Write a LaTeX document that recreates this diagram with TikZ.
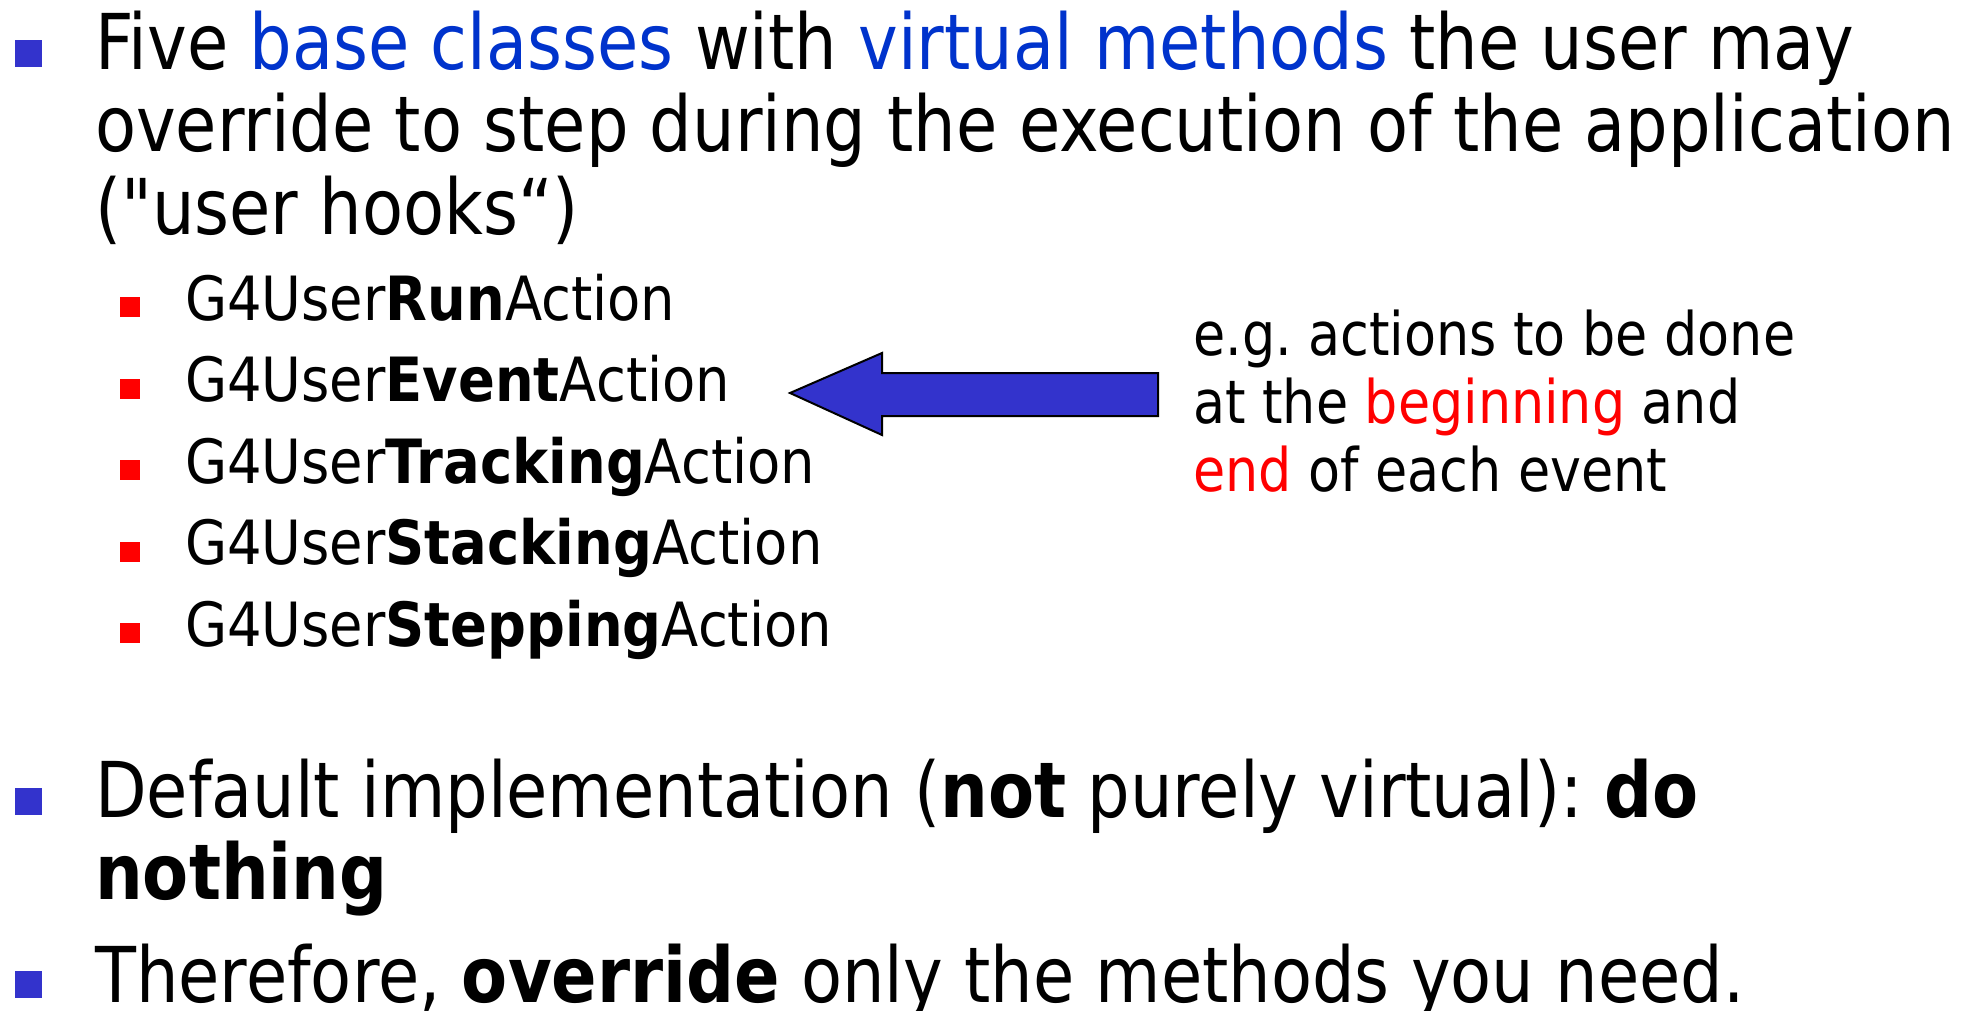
\documentclass[tikz,border=0pt]{standalone}
\usepackage{fontspec}
\setmainfont{DejaVu Sans}[FakeStretch=0.872]
\newfontfamily\mainfam{DejaVu Sans}[FakeStretch=0.871]
\newfontfamily\subfam{DejaVu Sans}[FakeStretch=0.891]
\usepackage{xcolor}
\usetikzlibrary{positioning}

\definecolor{bulletblue}{RGB}{51,51,204}
\definecolor{wordblue}{RGB}{0,51,204}
\definecolor{wordred}{RGB}{255,0,0}

\begin{document}
\frenchspacing
\begin{tikzpicture}[x=1pt, y=-1pt,
    mainline/.style={anchor=base west, inner sep=0pt, font=\mainfam\fontsize{77}{82}\selectfont},
    subline/.style={anchor=base west, inner sep=0pt, font=\subfam\fontsize{61}{70}\selectfont},
    noteline/.style={anchor=base west, inner sep=0pt, font=\fontsize{60}{68}\selectfont},
    bigbullet/.style={rectangle, fill=bulletblue, inner sep=0pt, minimum size=27pt},
    smallbullet/.style={rectangle, fill=wordred, inner sep=0pt, minimum size=20pt},
    blockarrow/.style={draw=black, line width=2pt, fill=bulletblue, line join=miter}]
    \useasboundingbox (0,0) rectangle (1972,1011);

    % first item
    \node[bigbullet] (b1) at (28.5, 53.5) {};
    \node[mainline] (l1) at (95, 70) {Five {\color{wordblue}base classes} with {\color{wordblue}virtual methods} the user may};
    \node[mainline] (l2) at (95, 152) {override to step during the execution of the application};
    \node[mainline] (l3) at (95, 234) {(\symbol{34}user hooks“)};

    % the five user actions
    \node[smallbullet] (s1) at (130, 307) {};
    \node[smallbullet] (s2) at (130, 388.5) {};
    \node[smallbullet] (s3) at (130, 470) {};
    \node[smallbullet] (s4) at (130, 551.5) {};
    \node[smallbullet] (s5) at (130, 633) {};
    \node[subline] (run) at (185, 320) {G4User\textbf{Run}Action};
    \node[subline] (event) at (185, 401.5) {G4User\textbf{Event}Action};
    \node[subline] (tracking) at (185, 483) {G4User\textbf{Tracking}Action};
    \node[subline] (stacking) at (185, 564.5) {G4User\textbf{Stacking}Action};
    \node[subline] (stepping) at (185, 646) {G4User\textbf{Stepping}Action};

    % note and arrow
    \node[noteline] (n1) at (1193, 355) {e.g. actions to be done};
    \node[noteline] (n2) at (1193, 423) {at the {\color{wordred}beginning} and};
    \node[noteline] (n3) at (1193, 491) {{\color{wordred}end} of each event};
    \coordinate (tip) at (790, 393);
    \draw[blockarrow] (tip) -- (882, 353) -- (882, 373) -- (1158, 373)
        -- (1158, 416) -- (882, 416) -- (882, 435) -- cycle;

    % second and third items
    \node[bigbullet] (b2) at (28.5, 801) {};
    \node[mainline] (d1) at (95, 817) {Default implementation (\textbf{not} purely virtual): \textbf{do}};
    \node[mainline] (d2) at (95, 899) {\textbf{nothing}};
    \node[bigbullet] (b3) at (28.5, 984) {};
    \node[mainline] (t1) at (95, 1002) {Therefore, \textbf{override} only the methods you need.};
\end{tikzpicture}
\end{document}
